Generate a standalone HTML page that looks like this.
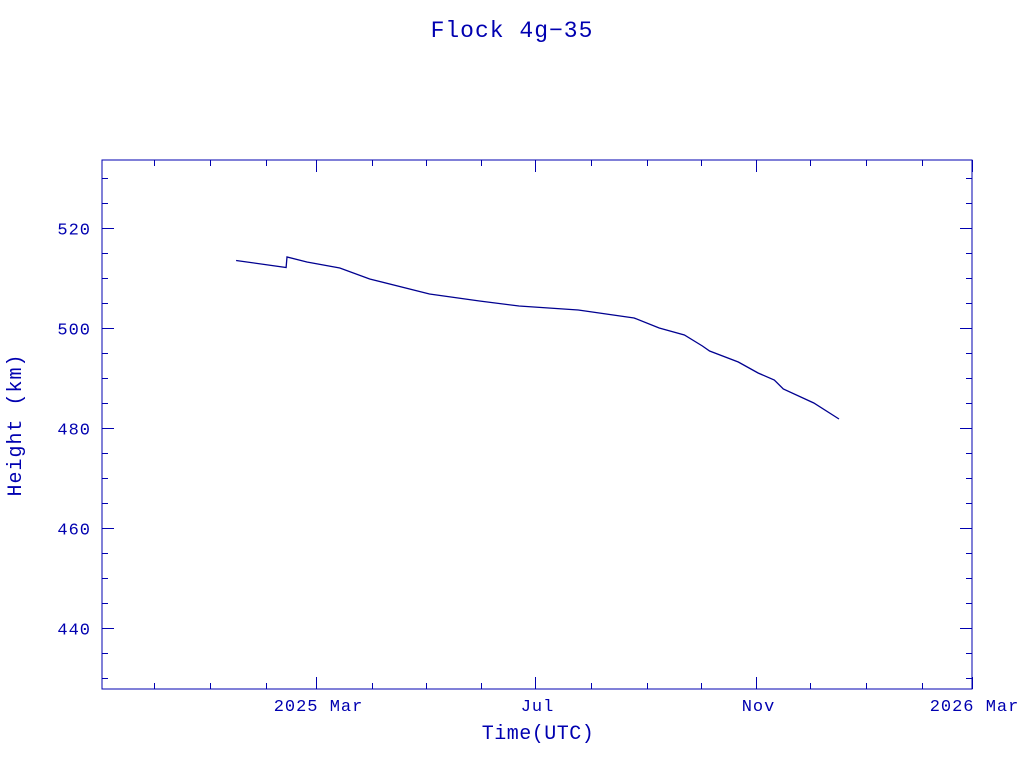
<!DOCTYPE html>
<html><head><meta charset="utf-8"><style>
body{margin:0;background:#fff;}
svg{display:block;font-family:"Liberation Mono",monospace;}
</style></head><body>
<svg id="chart" width="1024" height="768" xmlns="http://www.w3.org/2000/svg">
<text x="512" y="37" text-anchor="middle" font-size="23" letter-spacing="1" fill="#0000b0">Flock 4g−35</text>
<rect x="102" y="160" width="870" height="529" fill="none" stroke="#0000b0" stroke-width="1"/>
<g id="axes"></g>
<text x="538" y="739" text-anchor="middle" font-size="20" letter-spacing="0.5" fill="#0000b0">Time(UTC)</text>
<text x="0" y="0" transform="translate(21,425) rotate(-90)" text-anchor="middle" font-size="20" letter-spacing="1" fill="#0000b0">Height (km)</text>
</svg>
<script>
// days since 2025-03-01
const days=[-44.4,-16.6,-16.1,-5,13.3,29.9,63.2,91,113,146,177,191,205,215,219,235,246,255,260,277,291];
const heights=[513.5,512.1,514.2,513.2,512.0,509.8,506.8,505.4,504.4,503.6,502.0,500.0,498.6,496.4,495.4,493.2,491.0,489.6,487.8,485.0,481.8];
const xMajorDays=[0,122,245,365];
const xMajorLabels=["2025 Mar","Jul","Nov","2026 Mar"];
const xMinorDays=[-90,-59,-28,31,61,92,153,184,214,275,306,337];
const xMin=-119,xMax=365,yMin=427.8,yMax=533.6;
const L=102,R=972,T=160,B=689;
const sx=d=>L+(d-xMin)/(xMax-xMin)*(R-L);
const sy=v=>B-(v-yMin)/(yMax-yMin)*(B-T);
const NS="http://www.w3.org/2000/svg";
const g=document.getElementById('axes');
const C="#0000b0";
function line(x1,y1,x2,y2,name){const l=document.createElementNS(NS,'line');
l.setAttribute('x1',x1);l.setAttribute('y1',y1);l.setAttribute('x2',x2);l.setAttribute('y2',y2);
l.setAttribute('stroke',C);l.setAttribute('stroke-width',1);


g.appendChild(l);}
function text(x,y,s,anchor,name){const t=document.createElementNS(NS,'text');
t.setAttribute('x',x);t.setAttribute('y',y);t.setAttribute('text-anchor',anchor);
t.setAttribute('font-size',17);t.setAttribute('letter-spacing',1);t.setAttribute('fill',C);t.textContent=s;


g.appendChild(t);}
xMajorDays.forEach((d,i)=>{const x=Math.round(sx(d))+0.5;
line(x,B,x,B-12,'x-major-tick');line(x,T,x,T+12,'x-major-tick-top');
text(x+2,711,xMajorLabels[i],'middle','x-tick-label');});
xMinorDays.forEach(d=>{const x=Math.round(sx(d))+0.5;
line(x,B,x,B-6,'x-minor-tick');line(x,T,x,T+6,'x-minor-tick-top');});
for(let v=430;v<=530;v+=5){const y=Math.round(sy(v))+0.5;const maj=v%20===0;const len=maj?12:6;
line(L,y,L+len,y,'y-tick');line(R,y,R-len,y,'y-tick-right');
if(maj)text(91,y+6,String(v),'end','y-tick-label');}
const p=document.createElementNS(NS,'polyline');
p.setAttribute('points',days.map((d,i)=>sx(d).toFixed(1)+','+sy(heights[i]).toFixed(1)).join(' '));
p.setAttribute('fill','none');p.setAttribute('stroke','#000090');p.setAttribute('stroke-width',1.3);


g.appendChild(p);
</script>
</body></html>
